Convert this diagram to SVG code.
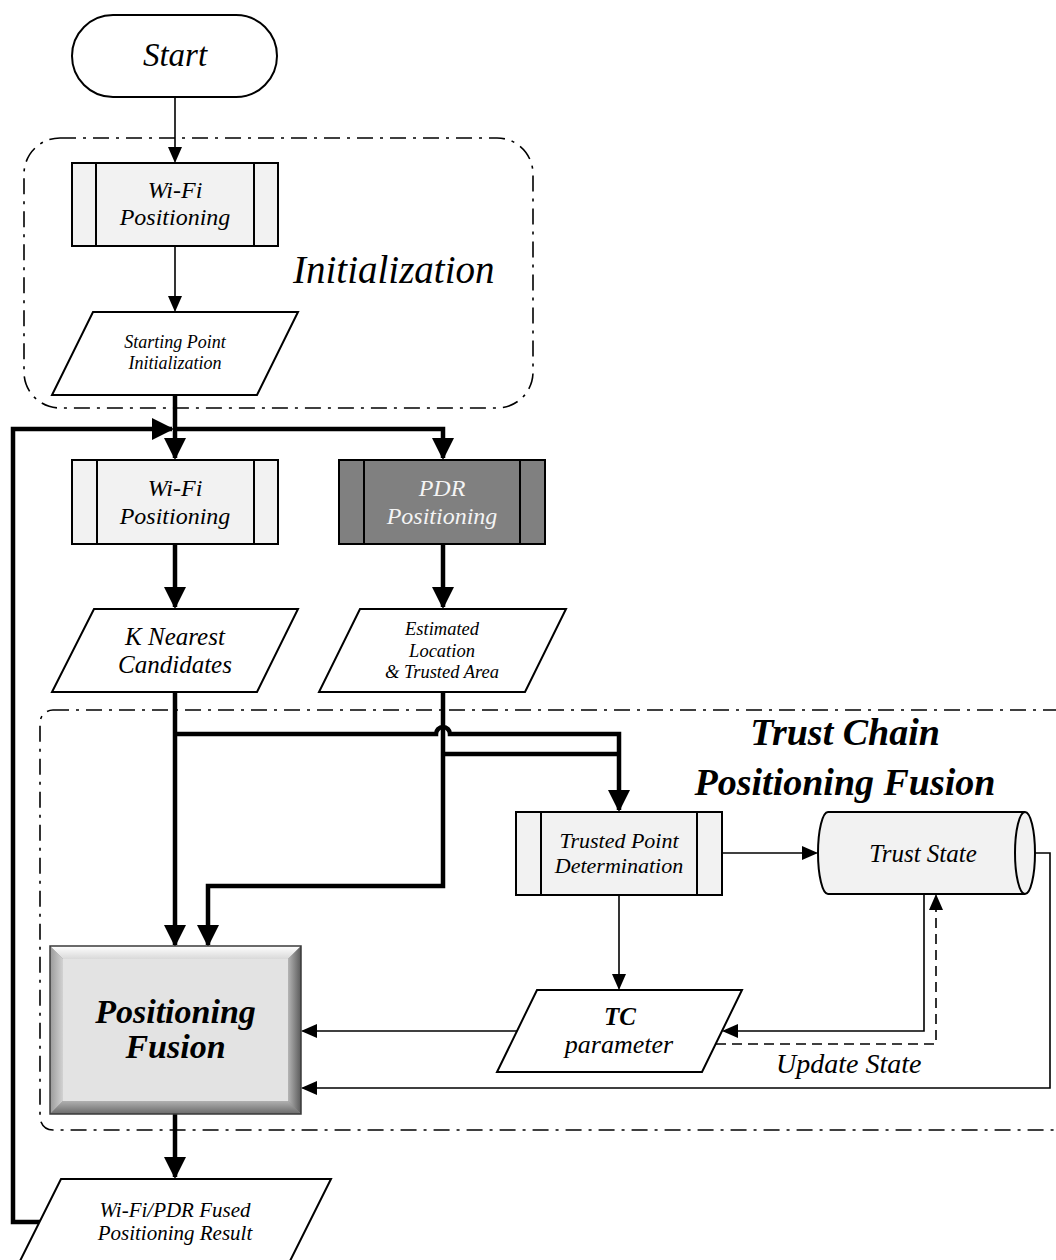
<svg xmlns="http://www.w3.org/2000/svg" width="1056" height="1260" viewBox="0 0 1056 1260">
<defs>
<style>
.box{fill:#f2f2f2;stroke:#000;stroke-width:2}
.dark{fill:#808080;stroke:#000;stroke-width:2}
.io{fill:#fff;stroke:#000;stroke-width:2}
.ln{fill:none;stroke:#000;stroke-width:2}
.t{font-family:"Liberation Serif","Times New Roman",serif;font-style:italic;text-anchor:middle;fill:#000}
.tb{font-family:"Liberation Serif","Times New Roman",serif;font-style:italic;font-weight:bold;text-anchor:middle;fill:#000}
.big{font-family:"Liberation Serif","Times New Roman",serif;font-style:italic;fill:#000}
.thin{fill:none;stroke:#000;stroke-width:1.6}
.thick{fill:none;stroke:#000;stroke-width:4.5}
.dash{fill:none;stroke:#000;stroke-width:1.6;stroke-dasharray:10 6}
.grp{fill:none;stroke:#000;stroke-width:1.6;stroke-dasharray:16 7 3 7}
</style>
<marker id="ah" markerUnits="userSpaceOnUse" viewBox="0 0 16 14" markerWidth="16" markerHeight="14" refX="14.5" refY="7" orient="auto"><path d="M0,0 L16,7 L0,14 Z" fill="#000"/></marker>
<marker id="ahT" markerUnits="userSpaceOnUse" viewBox="0 0 22 22" markerWidth="22" markerHeight="22" refX="20" refY="11" orient="auto"><path d="M0,0 L22,11 L0,22 Z" fill="#000"/></marker>
<linearGradient id="gTop" x1="0" y1="0" x2="0" y2="1"><stop offset="0" stop-color="#ffffff"/><stop offset="1" stop-color="#d9d9d9"/></linearGradient>
<linearGradient id="gRight" x1="0" y1="0" x2="1" y2="0"><stop offset="0" stop-color="#b5b5b5"/><stop offset="1" stop-color="#5a5a5a"/></linearGradient>
<linearGradient id="gLeft" x1="0" y1="0" x2="1" y2="0"><stop offset="0" stop-color="#9a9a9a"/><stop offset="1" stop-color="#d2d2d2"/></linearGradient>
<linearGradient id="gBot" x1="0" y1="0" x2="0" y2="1"><stop offset="0" stop-color="#b0b0b0"/><stop offset="1" stop-color="#6a6a6a"/></linearGradient>
</defs>

<g id="group-init">
<rect class="grp" x="24" y="138" width="509" height="270" rx="36"/>
<text class="big" x="293" y="283" font-size="39">Initialization</text>
</g>
<g id="group-trust">
<rect class="grp" x="40" y="710" width="1030" height="420" rx="13"/>
<text class="big" x="845" y="745" font-size="38" font-weight="bold" text-anchor="middle">Trust Chain</text>
<text class="big" x="845" y="795" font-size="38" font-weight="bold" text-anchor="middle">Positioning Fusion</text>
</g>

<g id="connectors">
<path class="thin" d="M175,97 V161.5" marker-end="url(#ah)"/>
<path class="thin" d="M175,246 V310.5" marker-end="url(#ah)"/>
<path class="thick" d="M175,395 V458" marker-end="url(#ahT)"/>
<path class="thick" d="M173,429 H443 V458" marker-end="url(#ahT)"/>
<path class="thick" d="M40,1222 H13 V429 H172" marker-end="url(#ahT)"/>
<path class="thick" d="M175,544 V607" marker-end="url(#ahT)"/>
<path class="thick" d="M443,544 V607" marker-end="url(#ahT)"/>
<path class="thick" d="M175,692 V945" marker-end="url(#ahT)"/>
<path class="thick" d="M443,692 V886 H208 V945" marker-end="url(#ahT)"/>
<path class="thick" d="M175,734 H436 A7,7 0 0 1 450,734 H619 V810" marker-end="url(#ahT)"/>
<path class="thick" d="M443,754 H619"/>
<path class="thick" d="M175,1114 V1177" marker-end="url(#ahT)"/>
<path class="thin" d="M722,853 H816.5" marker-end="url(#ah)"/>
<path class="thin" d="M619,895 V988.5" marker-end="url(#ah)"/>
<path class="thin" d="M924,894 V1031 H723.5" marker-end="url(#ah)"/>
<path class="dash" d="M716,1044 H936 V895.5" marker-end="url(#ah)"/>
<path class="thin" d="M517,1031 H302.5" marker-end="url(#ah)"/>
<path class="thin" d="M1035,853 H1050 V1088 H302.5" marker-end="url(#ah)"/>
<text class="t" x="776" y="1073" font-size="28" style="text-anchor:start">Update State</text>
</g>

<g id="start">
<rect class="io" x="72" y="15" width="205" height="82" rx="41"/>
<text class="t" x="175" y="66" font-size="33">Start</text>
</g>

<g id="wifi-init">
<rect class="box" x="72" y="163" width="206" height="83"/>
<path class="ln" d="M96,163 V246 M254,163 V246"/>
<text class="t" x="175" y="198" font-size="24">Wi-Fi</text>
<text class="t" x="175" y="225" font-size="24">Positioning</text>
</g>

<g id="starting-point">
<path class="io" d="M93,312 H298 L257,395 H52 Z"/>
<text class="t" x="175" y="348" font-size="18">Starting Point</text>
<text class="t" x="175" y="369" font-size="18">Initialization</text>
</g>

<g id="wifi">
<rect class="box" x="72" y="460" width="206" height="84"/>
<path class="ln" d="M97,460 V544 M254,460 V544"/>
<text class="t" x="175" y="496" font-size="24">Wi-Fi</text>
<text class="t" x="175" y="524" font-size="24">Positioning</text>
</g>

<g id="pdr">
<rect class="dark" x="339" y="460" width="206" height="84"/>
<path class="ln" d="M364,460 V544 M520,460 V544"/>
<text class="t" x="442" y="496" font-size="24" style="fill:#f4f4f4">PDR</text>
<text class="t" x="442" y="524" font-size="24" style="fill:#f4f4f4">Positioning</text>
</g>

<g id="k-nearest">
<path class="io" d="M94,609 H298 L257,692 H52 Z"/>
<text class="t" x="175" y="645" font-size="25">K Nearest</text>
<text class="t" x="175" y="673" font-size="25">Candidates</text>
</g>

<g id="estimated">
<path class="io" d="M360,609 H566 L525,692 H319 Z"/>
<text class="t" x="442" y="635" font-size="18.5">Estimated</text>
<text class="t" x="442" y="657" font-size="18.5">Location</text>
<text class="t" x="442" y="678" font-size="18.5">&amp; Trusted Area</text>
</g>

<g id="trusted-point">
<rect class="box" x="516" y="812" width="206" height="83"/>
<path class="ln" d="M541,812 V895 M697,812 V895"/>
<text class="t" x="619" y="848" font-size="22">Trusted Point</text>
<text class="t" x="619" y="873" font-size="22">Determination</text>
</g>

<g id="trust-state">
<path class="box" d="M828,812 H1025 A10,41 0 0 1 1025,894 H828 A10,41 0 0 1 828,812 Z"/>
<path class="ln" d="M1025,812 A10,41 0 0 0 1025,894"/>
<text class="t" x="923" y="862" font-size="25">Trust State</text>
</g>

<g id="tc-parameter">
<path class="io" d="M537,990 H742 L702,1072 H497 Z"/>
<text class="tb" x="620" y="1025" font-size="25">TC</text>
<text class="t" x="619" y="1053" font-size="26">parameter</text>
</g>

<g id="positioning-fusion">
<rect x="50" y="946" width="251" height="168" fill="#8a8a8a"/>
<path d="M50,946 H301 L288,959 H63 Z" fill="url(#gTop)"/>
<path d="M50,946 L63,959 V1101 L50,1114 Z" fill="url(#gLeft)"/>
<path d="M301,946 V1114 L288,1101 V959 Z" fill="url(#gRight)"/>
<path d="M50,1114 L63,1101 H288 L301,1114 Z" fill="url(#gBot)"/>
<rect x="63" y="959" width="225" height="142" fill="#e3e3e3"/>
<rect x="50" y="946" width="251" height="168" fill="none" stroke="#3a3a3a" stroke-width="1.5"/>
<text class="tb" x="175.5" y="1023" font-size="34">Positioning</text>
<text class="tb" x="175.5" y="1058" font-size="34">Fusion</text>
</g>

<g id="fused-result">
<path class="io" d="M61,1179 H331 L289,1263 H19 Z"/>
<text class="t" x="175" y="1217" font-size="21">Wi-Fi/PDR Fused</text>
<text class="t" x="175" y="1240" font-size="21">Positioning Result</text>
</g>
</svg>
